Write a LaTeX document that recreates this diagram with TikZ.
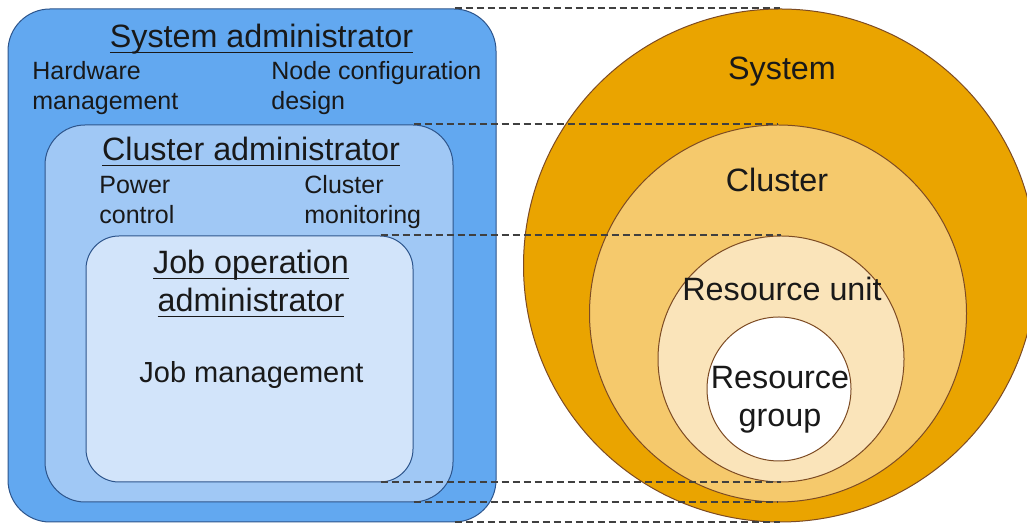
\documentclass[tikz,border=0pt]{standalone}
\usepackage{fontspec}
\setmainfont{Liberation Sans}
\definecolor{sysblue}{RGB}{98,168,240}
\definecolor{clublue}{RGB}{160,200,245}
\definecolor{jobblue}{RGB}{210,228,250}
\definecolor{edgeblue}{RGB}{45,85,140}
\definecolor{sysorange}{RGB}{234,164,0}
\definecolor{cluorange}{RGB}{245,201,108}
\definecolor{unitorange}{RGB}{250,228,186}
\definecolor{edgebrown}{RGB}{125,75,35}
\newcommand\bigtext{\fontsize{16.15}{19}\selectfont}
\newcommand\smalltext{\fontsize{12.5}{15}\selectfont}
\newcommand\midtext{\fontsize{14.5}{17}\selectfont}
\newcommand\ulined[1]{\leavevmode\setbox0=\hbox{#1}\rlap{\rule[-2.6pt]{\wd0}{0.7pt}}\box0}
\begin{document}
\begin{tikzpicture}[x=0.5pt,y=0.5pt,
  admin/.style={draw=edgeblue, line width=0.5pt, inner sep=0pt},
  area/.style={draw=edgebrown, line width=0.5pt, circle, inner sep=0pt},
  lbl/.style={inner sep=0pt, text=black!90},
  level/.style={draw=black!75, line width=1pt, dash pattern=on 3.5pt off 2pt}]
\useasboundingbox (0,0) rectangle (1027,523);
\begin{scope}
\node[admin, fill=sysblue, rounded corners=21pt, minimum width=244pt, minimum height=256.5pt] (sysadm) at (252,257.5) {};
\node[admin, fill=clublue, rounded corners=20pt, minimum width=204pt, minimum height=188.5pt] (cluadm) at (249,209.5) {};
\node[admin, fill=jobblue, rounded corners=16.5pt, minimum width=163.5pt, minimum height=123pt] (jobadm) at (249.5,164) {};

\node[lbl, anchor=base, font=\bigtext] (systitle) at (261.5,475) {\ulined{System administrator}};
\node[lbl, anchor=base west, align=left, font=\smalltext] (hardware) at (32,413) {Hardware\\management};
\node[lbl, anchor=base west, align=left, font=\smalltext] (nodecfg) at (271,413) {Node configuration\\design};
\node[lbl, anchor=base, font=\bigtext] (clutitle) at (251,362) {\ulined{Cluster administrator}};
\node[lbl, anchor=base west, align=left, font=\smalltext] (power) at (99,299) {Power\\control};
\node[lbl, anchor=base west, align=left, font=\smalltext] (monitor) at (304,299) {Cluster\\monitoring};
\node[lbl, anchor=base, align=center, font=\bigtext] (jobtitle) at (251,211) {\ulined{Job operation}\\\ulined{administrator}};
\node[lbl, anchor=base, font=\midtext] (jobmgmt) at (251.5,140) {Job management};
\end{scope}
\begin{scope}
\node[area, fill=sysorange, minimum size=256.5pt] (system) at (780,257.5) {};
\node[area, fill=cluorange, minimum size=188.5pt] (cluster) at (778,209.5) {};
\node[area, fill=unitorange, minimum size=123pt] (unit) at (781,164) {};
\node[area, fill=white, minimum size=72pt] (group) at (779,134) {};

\node[lbl, anchor=base, font=\bigtext] (systext) at (782,443) {System};
\node[lbl, anchor=base, font=\bigtext] (clutext) at (777,331) {Cluster};
\node[lbl, anchor=base, font=\bigtext] (unittext) at (782,222) {Resource unit};
\node[lbl, anchor=base, align=center, font=\bigtext] (grouptext) at (780,96) {Resource\\group};
\end{scope}

\path[draw,level] ([xshift=-21pt]sysadm.north east) -- (system.north);
\path[draw,level] ([xshift=-20pt]cluadm.north east) -- (cluster.north);
\path[draw,level] ([xshift=-16.5pt]jobadm.north east) -- (unit.north);
\path[draw,level] ([xshift=-16.5pt]jobadm.south east) -- (unit.south);
\path[draw,level] ([xshift=-20pt]cluadm.south east) -- (cluster.south);
\path[draw,level] ([xshift=-21pt]sysadm.south east) -- (system.south);
\end{tikzpicture}
\end{document}
